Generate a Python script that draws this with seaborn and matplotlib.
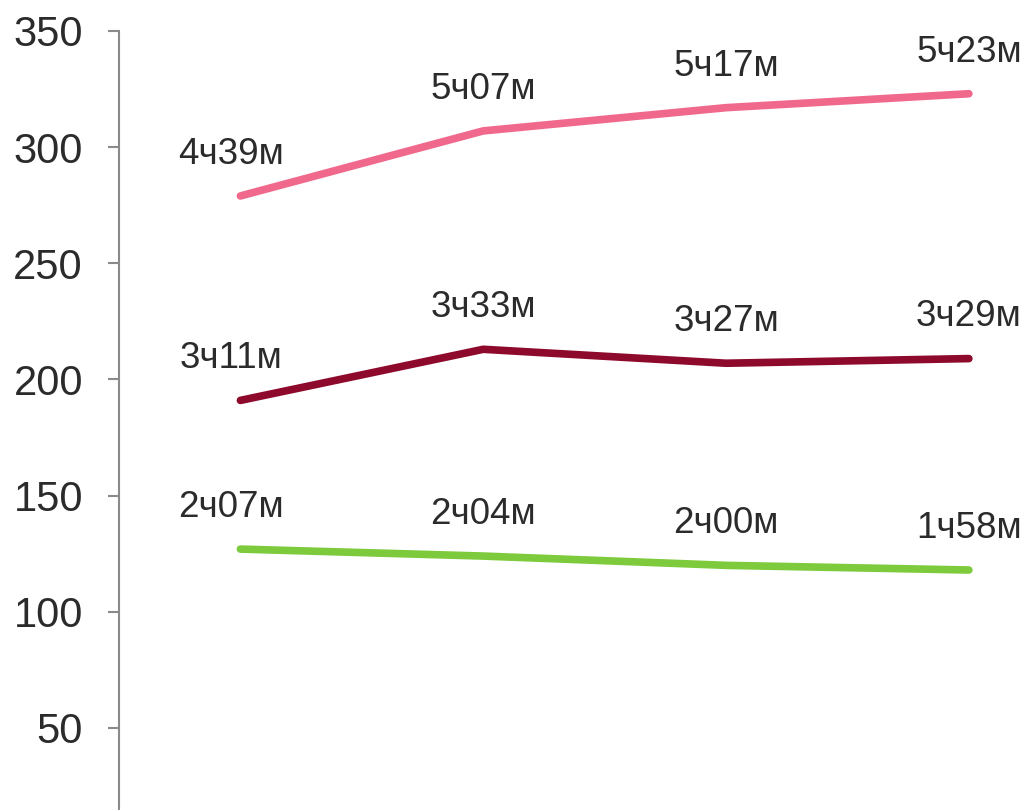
import matplotlib
matplotlib.use("Agg")
import matplotlib.pyplot as plt
import seaborn as sns
import pandas as pd

periods = ["P1", "P2", "P3", "P4"]
series_names = ["top", "middle", "bottom"]
top_values = [279, 307, 317, 323]
middle_values = [191, 213, 207, 209]
bottom_values = [127, 124, 120, 118]
top_labels = ["4ч39м", "5ч07м", "5ч17м", "5ч23м"]
middle_labels = ["3ч11м", "3ч33м", "3ч27м", "3ч29м"]
bottom_labels = ["2ч07м", "2ч04м", "2ч00м", "1ч58м"]
y_ticks = [50, 100, 150, 200, 250, 300, 350]

colors = {"top": "#F0688C", "middle": "#8E0A2C", "bottom": "#7DCB3C"}

rows = []
for name, vals, labs in [("top", top_values, top_labels),
                         ("middle", middle_values, middle_labels),
                         ("bottom", bottom_values, bottom_labels)]:
    for i, (v, l) in enumerate(zip(vals, labs)):
        rows.append({"x": i, "period": periods[i], "series": name, "value": v, "label": l})
df = pd.DataFrame(rows)

sns.set_theme(style="white")
plt.rcParams["font.family"] = ["Liberation Sans", "DejaVu Sans"]

fig = plt.figure(figsize=(10.32, 8.1), dpi=100)
ax = fig.add_axes([119/1032, 0.0, 1 - 119/1032, (810 - 31) / 810])

sns.lineplot(data=df, x="x", y="value", hue="series", hue_order=series_names,
             palette=colors, linewidth=5.5, legend=False, ax=ax,
             solid_capstyle="round")

for _, r in df.iterrows():
    dx = -7 if r["x"] == 0 else 0
    ax.annotate(r["label"], (r["x"], r["value"]), xytext=(dx, 30),
                textcoords="offset points", ha="center", va="center",
                fontsize=26.5, color="#2b2b2b")

ax.set_xlim(-0.5, 3.26)
ax.set_ylim(14.7, 350)
ax.set_yticks(y_ticks)
ax.set_xticks([])
ax.set_xlabel("")
ax.set_ylabel("")
for s in ["top", "right", "bottom"]:
    ax.spines[s].set_visible(False)
ax.spines["left"].set_color("#8a8a8a")
ax.spines["left"].set_linewidth(1.5)
ax.tick_params(axis="y", left=True, length=8, width=1.5, color="#8a8a8a",
               labelsize=30, labelcolor="#2b2b2b", pad=18)
ax.grid(False)
fig.patch.set_facecolor("white")
fig.savefig("out.png", dpi=100)
